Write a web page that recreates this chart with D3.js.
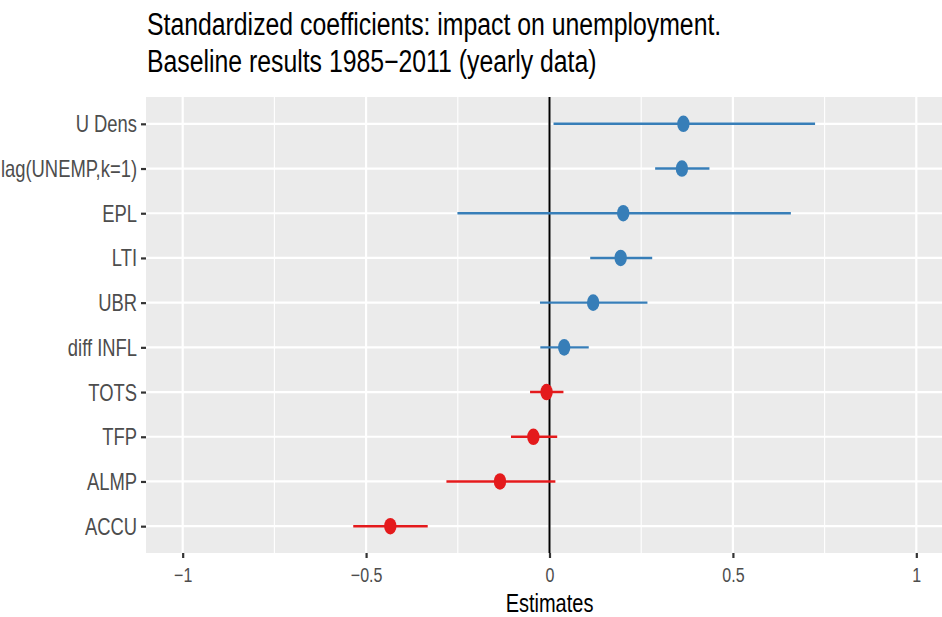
<!DOCTYPE html>
<html lang="en">
<head>
    <meta charset="UTF-8">
    <title>Standardized coefficients</title>
    <script src="https://d3js.org/d3.v7.min.js"></script>
    <style>
        body { margin: 0; background: #fff; }
        svg { display: block; }
        text { font-family: "Liberation Sans", Arial, sans-serif; }
    </style>
</head>
<body>
<svg width="942" height="617"></svg>

<script>
    // Terms, top to bottom
    const terms = ["U Dens", "lag(UNEMP,k=1)", "EPL", "LTI", "UBR", "diff INFL", "TOTS", "TFP", "ALMP", "ACCU"];
    const estimates = [0.365, 0.361, 0.201, 0.194, 0.119, 0.040, -0.008, -0.044, -0.135, -0.434];
    const lower = [0.011, 0.288, -0.251, 0.111, -0.026, -0.025, -0.053, -0.105, -0.281, -0.535];
    const upper = [0.724, 0.436, 0.658, 0.280, 0.267, 0.107, 0.038, 0.021, 0.016, -0.332];
    const xTicks = [-1, -0.5, 0, 0.5, 1];
    const xMinor = [-0.75, -0.25, 0.25, 0.75];
    const titleLines = ["Standardized coefficients: impact on unemployment.", "Baseline results 1985\u22122011 (yearly data)"];

    const svg = d3.select("svg");
    const sx = 0.8; // the picture is squeezed horizontally

    // panel runs past the right edge of the picture
    const panel = {left: 146, right: 953, top: 97, bottom: 553};

    const x = d3.scaleLinear().domain([-1.1, 1.1]).range([panel.left, panel.right]);
    const y = d3.scalePoint().domain(terms).range([panel.top, panel.bottom]).padding(0.6);

    const rows = terms.map((t, i) => ({term: t, est: estimates[i], lo: lower[i], hi: upper[i]}));

    // panel background
    svg.append("rect")
        .attr("x", panel.left).attr("y", panel.top)
        .attr("width", panel.right - panel.left).attr("height", panel.bottom - panel.top)
        .attr("fill", "#ebebeb");

    // minor grid
    svg.selectAll(".minor").data(xMinor).enter().append("line")
        .attr("x1", d => x(d)).attr("x2", d => x(d))
        .attr("y1", panel.top).attr("y2", panel.bottom)
        .attr("stroke", "#fff").attr("stroke-width", 1.1);

    // major grid
    svg.selectAll(".vmajor").data(xTicks).enter().append("line")
        .attr("x1", d => x(d)).attr("x2", d => x(d))
        .attr("y1", panel.top).attr("y2", panel.bottom)
        .attr("stroke", "#fff").attr("stroke-width", 2.2);

    svg.selectAll(".hmajor").data(terms).enter().append("line")
        .attr("x1", panel.left).attr("x2", panel.right)
        .attr("y1", d => y(d)).attr("y2", d => y(d))
        .attr("stroke", "#fff").attr("stroke-width", 2.2);

    // zero line
    svg.append("line")
        .attr("x1", x(0)).attr("x2", x(0))
        .attr("y1", panel.top).attr("y2", panel.bottom)
        .attr("stroke", "#000").attr("stroke-width", 2);

    const colour = d => d.est >= 0 ? "#377eb8" : "#e41a1c";

    // intervals
    svg.selectAll(".ci").data(rows).enter().append("line")
        .attr("x1", d => x(d.lo)).attr("x2", d => x(d.hi))
        .attr("y1", d => y(d.term)).attr("y2", d => y(d.term))
        .attr("stroke", colour).attr("stroke-width", 2.4);

    // point estimates
    svg.selectAll(".pt").data(rows).enter().append("ellipse")
        .attr("cx", d => x(d.est)).attr("cy", d => y(d.term))
        .attr("rx", 6.2).attr("ry", 8.3)
        .attr("fill", colour);

    // axes
    const xAxis = d3.axisBottom(x).tickValues(xTicks).tickSize(5).tickPadding(4)
        .tickFormat(d => d3.format("")(d).replace("-", "\u2212"));
    const gx = svg.append("g").attr("transform", `translate(0,${panel.bottom})`).call(xAxis);

    const yAxis = d3.axisLeft(y).tickSize(5).tickPadding(4);
    const gy = svg.append("g").attr("transform", `translate(${panel.left},0)`).call(yAxis);

    [gx, gy].forEach(g => {
        g.select(".domain").remove();
        g.selectAll(".tick line").attr("stroke", "#333").attr("stroke-width", 2.2);
        g.selectAll(".tick text").attr("fill", "#4d4d4d");
    });
    // squeeze tick labels like the picture
    gx.selectAll(".tick text")
        .style("font-size", "20px")
        .attr("y", null).attr("dy", null)
        .attr("transform", `translate(0,29) scale(${sx},1)`);
    gy.selectAll(".tick text")
        .style("font-size", "23px")
        .attr("x", null).attr("dy", null)
        .attr("transform", `translate(-9,8) scale(${sx},1)`);

    // axis title
    svg.append("text")
        .attr("transform", `translate(${(panel.left + panel.right) / 2},612) scale(${sx},1)`)
        .attr("text-anchor", "middle")
        .style("font-size", "25px").attr("fill", "#000")
        .text("Estimates");

    // plot title
    svg.selectAll(".title").data(titleLines).enter().append("text")
        .attr("transform", (d, i) => `translate(147,${35 + i * 37}) scale(${sx},1)`)
        .style("font-size", "31px").attr("fill", "#000")
        .text(d => d);
</script>
</body>
</html>
